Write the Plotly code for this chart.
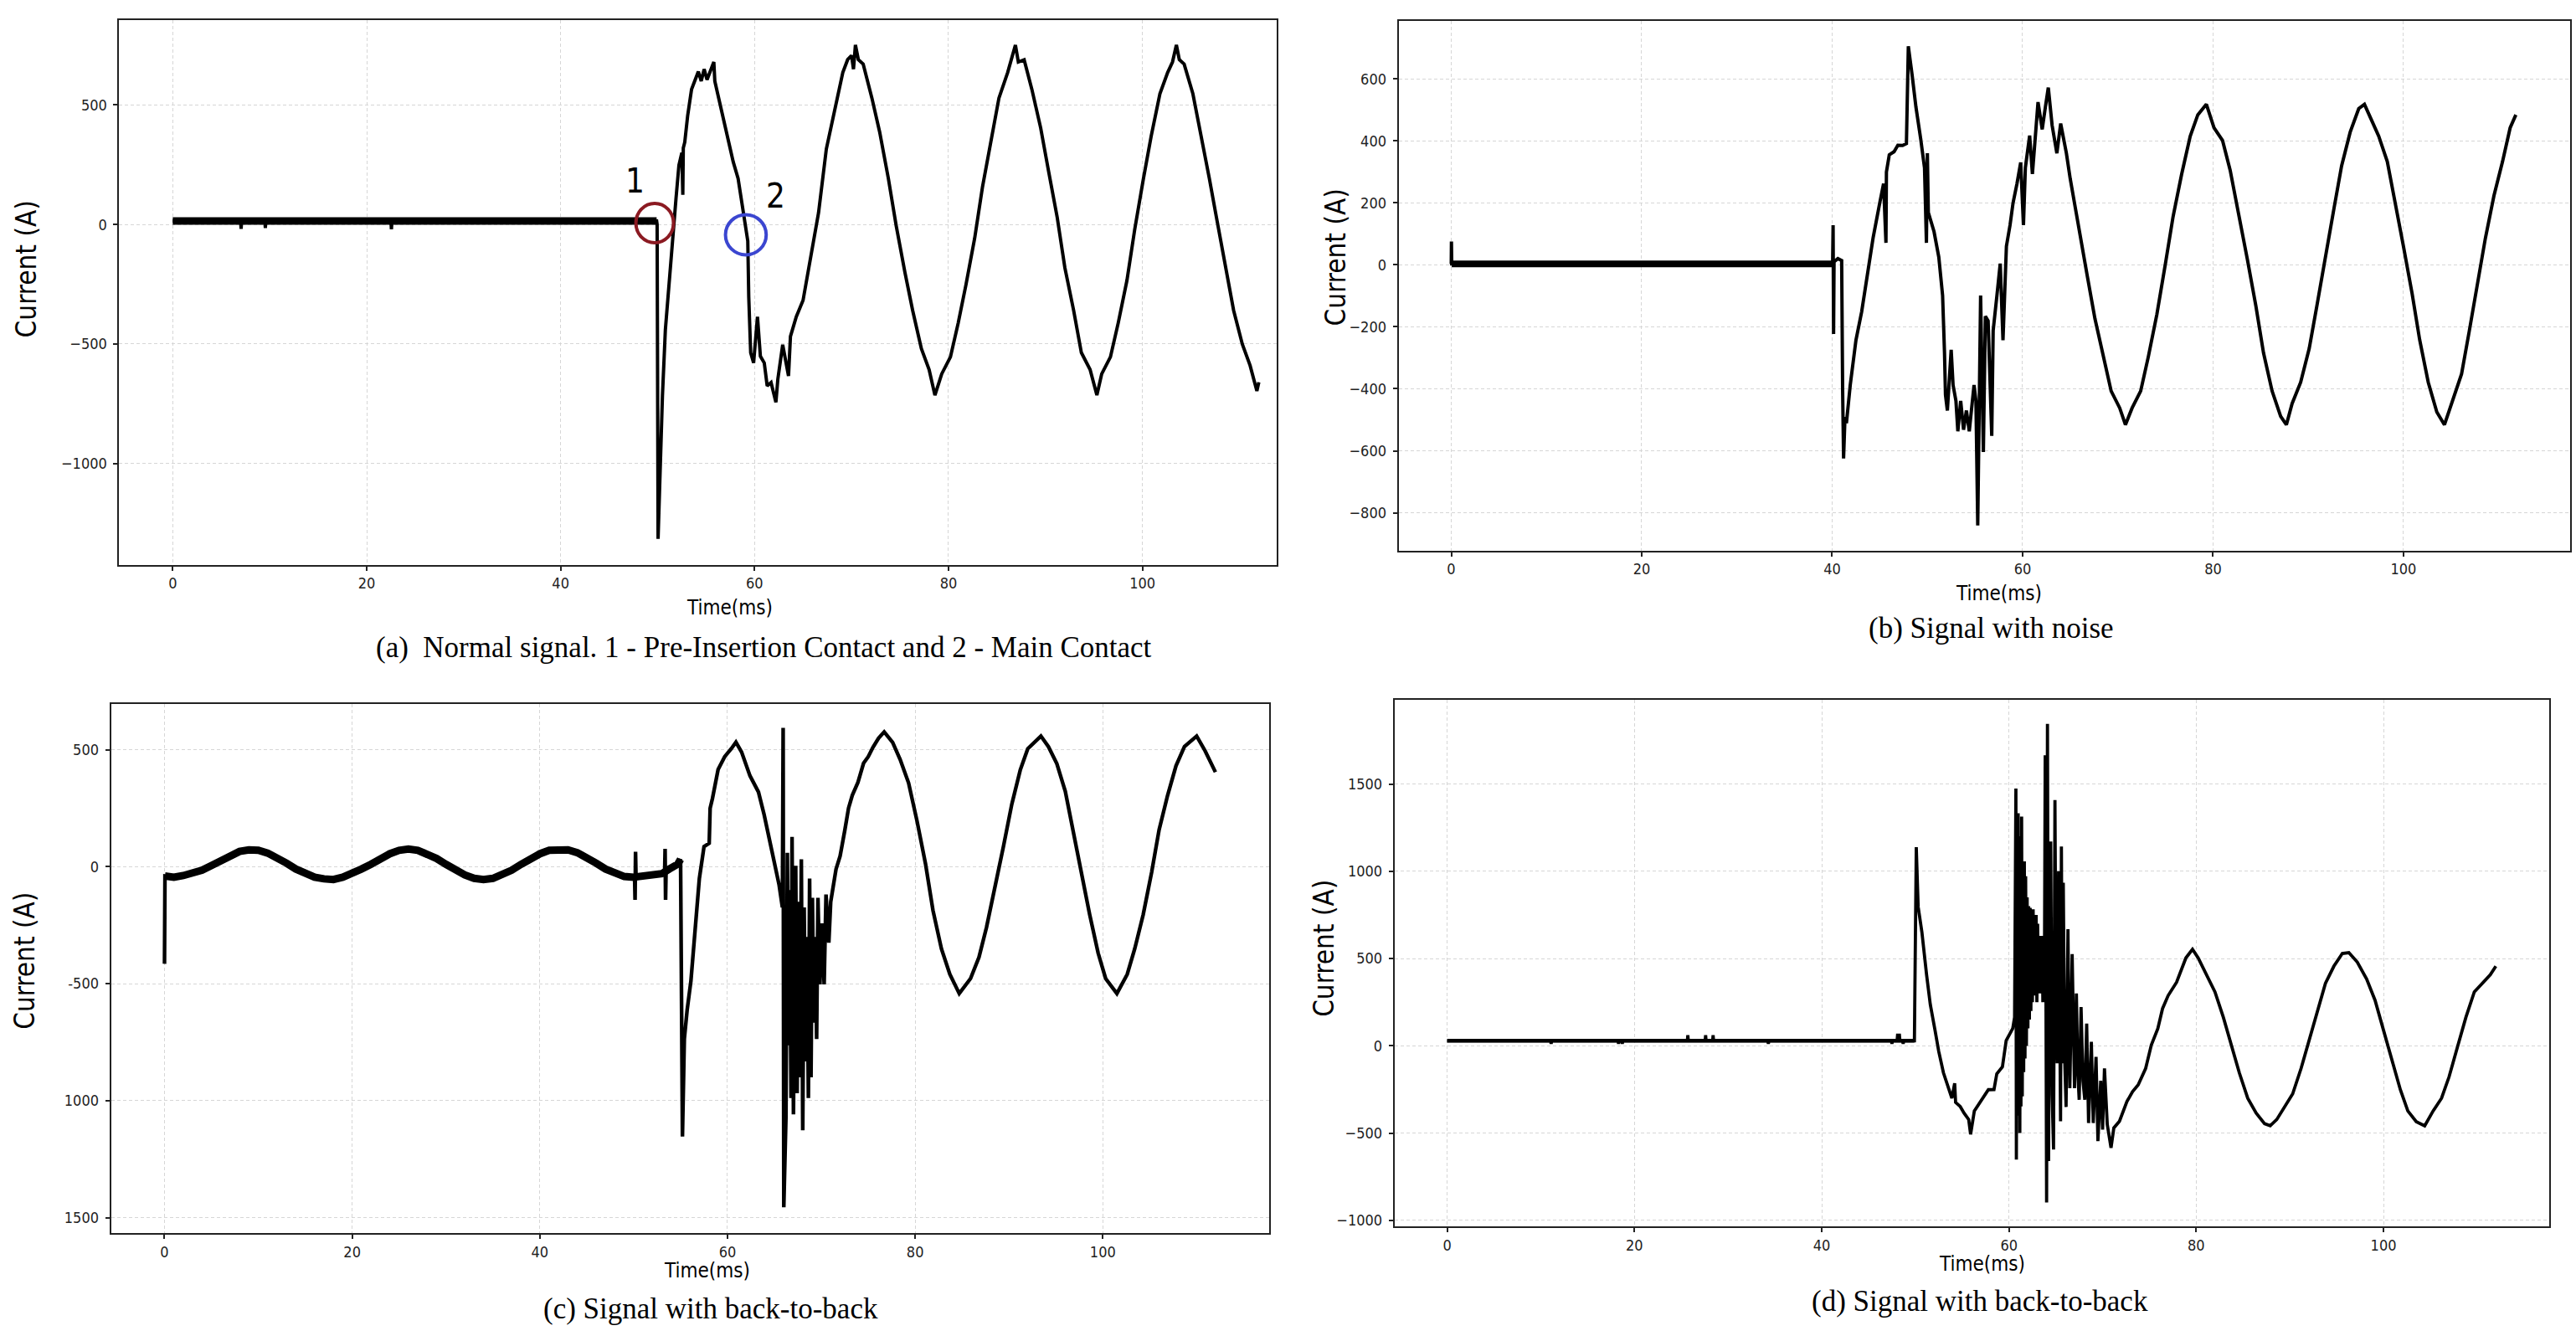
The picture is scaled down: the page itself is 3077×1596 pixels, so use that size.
import numpy as np
import plotly.graph_objects as go

W, H = 3077, 1596

# ---------------- (a) Normal signal ----------------
a_time = [0, 49.9, 49.95, 50.05, 50.2, 50.5, 50.8, 51.1, 51.4, 51.6,
          51.9, 52.2, 52.5, 52.6, 52.65, 52.8, 53.1, 53.5, 53.9, 54.2,
          54.5, 54.8, 55.1, 55.4, 55.8, 55.9, 56.1, 56.5, 57.0, 57.4,
          57.8, 58.3, 58.7, 59.1, 59.3, 59.4, 59.6, 59.9, 60.3, 60.6,
          61.0, 61.3, 61.7, 62.2, 62.4, 62.9, 63.2, 63.5, 63.7, 64.3,
          65.0, 65.7, 66.6, 67.4, 68.3, 69.1, 69.6, 70.0, 70.2, 70.4,
          70.7, 71.2, 72.1, 72.9, 73.8, 74.6, 75.5, 76.3, 77.2, 78.0,
          78.6, 79.3, 80.2, 81.0, 81.8, 82.7, 83.5, 84.4, 85.2, 86.1,
          86.5, 86.9, 87.2, 87.8, 88.6, 89.5, 90.3, 91.2, 92.0, 92.9,
          93.7, 94.6, 95.3, 95.8, 96.7, 97.5, 98.4, 99.2, 100.1, 100.9,
          101.8, 102.6, 103.1, 103.5, 103.8, 104.3, 105.2, 106.0, 106.9, 107.7,
          108.6, 109.4, 110.3, 111.1, 111.8, 112.0]
a_current = [15, 15, 0, -1315, -1102, -716, -441, -289, -138, 0,
             110, 248, 300, 124, 320, 344, 455, 565, 613, 640,
             600, 650, 606, 640, 680, 600, 565, 496, 413, 331,
             262, 193, 96, -14, -69, -303, -537, -579, -386, -551,
             -579, -675, -661, -744, -647, -503, -579, -634, -468, -386,
             -317, -163, 50, 316, 494, 636, 690, 707, 650, 751,
             690, 671, 529, 387, 192, -4, -199, -359, -519, -607,
             -714, -625, -554, -412, -252, -57, 156, 352, 529, 636,
             690, 751, 680, 689, 565, 405, 227, 32, -181, -359,
             -536, -607, -714, -625, -554, -412, -234, -21, 192, 370,
             547, 636, 680, 751, 690, 671, 547, 387, 192, 14,
             -181, -359, -501, -590, -696, -660]
a_spike_time = [7.0, 7.05, 7.1, 9.5, 9.55, 9.6, 22.5, 22.55, 22.6]
a_spike_current = [15, -18, 15, 15, -15, 15, 15, -20, 15]

# ---------------- (b) Signal with noise ----------------
b_time = [0, 0.05, 40.0, 40.2, 40.6, 41.0, 41.1, 41.2, 41.35, 41.5,
          41.9, 42.5, 43.1, 43.7, 44.3, 45.0, 45.4, 45.65, 45.7, 46.0,
          46.5, 46.9, 47.4, 47.8, 48.0, 48.4, 48.8, 49.3, 49.7, 49.9,
          50.0, 50.1, 50.7, 51.2, 51.6, 51.8, 51.9, 52.1, 52.5, 52.7,
          53.0, 53.2, 53.5, 53.8, 54.1, 54.4, 54.9, 55.1, 55.29, 55.59,
          55.88, 56.09, 56.38, 56.76, 56.91, 57.3, 57.65, 57.94, 58.3, 58.68,
          59.0, 59.41, 59.8, 60.09, 60.29, 60.74, 61.03, 61.62, 62.06, 62.4,
          62.7, 63.1, 63.6, 64.0, 64.6, 65.0, 65.9, 66.8, 67.6, 68.5,
          69.3, 70.2, 70.8, 71.5, 72.4, 73.2, 74.1, 75.0, 75.8, 76.7,
          77.6, 78.4, 79.3, 80.1, 81.0, 81.8, 82.7, 83.6, 84.5, 85.3,
          86.2, 87.1, 87.7, 88.3, 89.2, 90.1, 90.9, 91.8, 92.7, 93.5,
          94.4, 95.3, 95.9, 96.6, 97.4, 98.3, 99.1, 100.0, 100.9, 101.7,
          102.6, 103.5, 104.3, 105.2, 106.1, 106.9, 107.8, 108.6, 109.5, 110.4,
          111.2, 111.8]
b_current = [3, 3, 3, 10, 20, 14, -400, -625, -491, -511,
             -388, -243, -151, -27, 87, 200, 262, 71, 300, 355,
             365, 386, 385, 391, 705, 612, 509, 406, 313, 71,
             360, 169, 107, 25, -99, -285, -419, -470, -274, -388,
             -439, -537, -439, -532, -470, -537, -388, -439, -841, -99,
             -604, -166, -181, -552, -212, -100, 4, -243, 60, 128,
             200, 262, 330, 128, 313, 417, 293, 525, 437, 511,
             572, 450, 360, 456, 360, 278, 114, -37, -174, -297,
             -407, -462, -516, -462, -407, -297, -160, 4, 155, 292,
             415, 484, 518, 442, 401, 305, 168, 18, -133, -284,
             -407, -489, -516, -448, -379, -270, -133, 32, 182, 319,
             428, 504, 518, 470, 415, 333, 210, 59, -92, -242,
             -379, -475, -516, -434, -352, -215, -51, 86, 223, 333,
             442, 484]
b_spike_time = [0.01, 0.02, 0.03, 40.05, 40.1, 40.15]
b_spike_current = [3, 75, 3, 3, 128, -223]

# ---------------- (c) Signal with back-to-back ----------------
c_time = [0, 0.05, 1, 2, 3, 4, 5, 6, 7, 8,
          9, 10, 11, 12, 13, 14, 15, 16, 17, 18,
          19, 20, 21, 22, 23, 24, 25, 26, 27, 28,
          29, 30, 31, 32, 33, 34, 35, 36, 37, 38,
          39, 40, 41, 42, 43, 44, 45, 46, 47, 48,
          49, 50, 51, 52, 53, 53.8, 54.7, 55.0, 55.2, 55.4,
          55.7, 56.1, 56.6, 57.0, 57.5, 58.05, 58.15, 58.4, 59.0, 59.7,
          60.4, 60.9, 61.5, 62.4, 63.3, 63.9, 64.7, 65.5, 65.85, 65.93,
          66.0, 66.23, 66.38, 66.53, 66.62, 66.77, 66.88, 67.03, 67.18, 67.27,
          67.42, 67.57, 67.72, 67.87, 68.02, 68.17, 68.32, 68.47, 68.62, 68.75,
          68.9, 69.05, 69.2, 69.35, 69.5, 69.64, 69.85, 70.05, 70.3, 70.5,
          70.8, 71.0, 71.57, 72.0, 72.5, 72.9, 73.3, 73.9, 74.5, 75.0,
          75.5, 76.1, 76.7, 77.6, 78.4, 79.3, 80.2, 81.1, 81.9, 82.8,
          83.7, 84.7, 85.9, 86.8, 87.6, 88.5, 89.4, 90.3, 91.2, 92.0,
          93.4, 94.2, 95.1, 96.0, 96.8, 97.7, 98.6, 99.5, 100.3, 101.5,
          102.6, 103.4, 104.3, 105.2, 106.0, 106.9, 107.8, 108.7, 110.0, 110.9,
          111.5, 112.0]
c_current = [-415, -40, -45, -38, -30, -15, 5, 25, 48, 65,
             72, 70, 58, 40, 15, -10, -30, -45, -52, -55,
             -45, -30, -10, 10, 35, 55, 70, 75, 70, 55,
             35, 10, -15, -35, -50, -55, -50, -35, -15, 10,
             35, 55, 70, 75, 72, 60, 40, 15, -10, -30,
             -42, -45, -42, -38, -30, -10, 11, 32, -1153, -736,
             -612, -489, -256, -51, 86, 100, 250, 292, 415, 470,
             504, 532, 490, 388, 319, 223, 73, -78, -174, 593,
             -1455, -1071, 59, -763, -100, -989, 127, -1058, -200, 4,
             -968, -150, -900, 32, -1126, -174, -832, -300, -989, -51,
             -900, -133, -667, -300, -736, -133, -503, -242, -503, -119,
             -325, -150, -10, 45, 155, 250, 305, 360, 442, 470,
             510, 549, 576, 531, 458, 358, 195, 13, -187, -351,
             -460, -542, -478, -387, -260, -96, 85, 267, 413, 504,
             558, 513, 440, 322, 158, -24, -205, -369, -478, -542,
             -460, -351, -205, -24, 158, 304, 431, 513, 558, 495,
             449, 404]
c_spike_time = [50.1, 50.15, 50.2, 50.25, 53.3, 53.35, 53.4, 53.45]
c_spike_current = [-44, -142, 64, -44, -28, 76, -142, -25]
c_tick_values = [-1500, -1000, -500, 0, 500]
c_tick_labels = ["1500", "1000", "-500", "0", "500"]

# ---------------- (d) Signal with back-to-back ----------------
d_time = [0, 49.9, 50.1, 50.3, 50.7, 51.2, 51.6, 52.1, 52.5, 53.0,
          53.4, 53.9, 54.2, 54.3, 54.8, 55.2, 55.7, 55.9, 56.3, 56.9,
          57.8, 58.4, 58.7, 59.3, 59.7, 60.4, 60.6, 60.74, 60.79, 60.86,
          60.92, 60.98, 61.04, 61.1, 61.16, 61.22, 61.28, 61.35, 61.42, 61.5,
          61.57, 61.64, 61.71, 61.78, 61.86, 61.94, 62.02, 62.1, 62.18, 62.26,
          62.34, 62.42, 62.5, 62.58, 62.66, 62.74, 62.82, 62.9, 62.98, 63.06,
          63.14, 63.22, 63.3, 63.38, 63.46, 63.54, 63.62, 63.7, 63.78, 63.87,
          64.02, 64.11, 64.23, 64.35, 64.46, 64.61, 64.76, 64.91, 65.03, 65.15,
          65.3, 65.4, 65.51, 65.6, 65.7, 65.8, 65.95, 66.1, 66.3, 66.4,
          66.5, 66.75, 66.9, 67.0, 67.2, 67.35, 67.5, 67.7, 67.9, 68.1,
          68.3, 68.5, 68.8, 69.0, 69.3, 69.5, 69.8, 70.0, 70.2, 70.5,
          70.9, 71.2, 71.8, 72.6, 73.2, 73.8, 74.6, 75.2, 75.9, 76.4,
          77.0, 77.9, 78.9, 79.6, 80.2, 81.1, 82.0, 82.9, 83.7, 84.6,
          85.5, 86.4, 87.3, 87.9, 88.6, 89.5, 90.3, 91.2, 92.1, 93.0,
          93.8, 94.7, 95.6, 96.3, 97.2, 98.2, 99.1, 100.0, 100.9, 101.8,
          102.6, 103.5, 104.4, 105.3, 106.2, 107.0, 107.9, 108.8, 109.7, 110.5,
          111.4, 112.0]
d_current = [29, 29, 1138, 797, 651, 407, 236, 90, -32, -154,
             -214, -300, -214, -324, -348, -385, -422, -507, -373, -324,
             -251, -250, -160, -120, 30, 99, 163, 1474, -651, 1100,
             -400, 1332, -300, 1200, -499, 900, -347, 1313, -290, 1000,
             -150, 1057, -72, 972, 0, 850, 100, 800, 150, 791,
             200, 760, 250, 782, 288, 700, 300, 750, 250, 700,
             350, 630, 300, 600, 400, 630, 250, 500, 300, 1664,
             -897, 1844, -660, 900, 1171, -281, -594, 1408, 200, -100,
             1000, 300, -432, 1142, -100, 934, -72, -350, 668, 100,
             -243, 526, -100, -243, 300, -150, -309, 222, -200, -309,
             127, -442, 23, -442, -63, -546, -200, -480, -129, -450,
             -584, -470, -432, -319, -262, -224, -129, 4, 99, 213,
             288, 364, 504, 553, 504, 407, 309, 163, 17, -154,
             -300, -385, -446, -458, -422, -348, -275, -129, 41, 212,
             358, 456, 529, 534, 480, 383, 261, 90, -80, -251,
             -373, -434, -458, -373, -300, -178, -7, 163, 309, 358,
             407, 456]
d_spike_time = [11.05, 11.1, 11.15, 18.25, 18.3, 18.35, 18.65, 18.7, 18.75,
                25.65, 25.7, 25.75, 27.55, 27.6, 27.65, 28.35, 28.4, 28.45,
                34.25, 34.3, 34.35, 47.45, 47.5, 47.55, 48.05, 48.1, 48.3, 48.35,
                48.65, 48.7, 48.75]
d_spike_current = [29, 12, 29, 29, 12, 29, 29, 12, 29,
                   29, 61, 29, 29, 61, 29, 29, 61, 29,
                   29, 12, 29, 29, 12, 29, 29, 61, 61, 29,
                   29, 12, 29]

captions = ["(a)\u00a0\u00a0Normal signal. 1 - Pre-Insertion Contact and 2 - Main Contact",
            "(b) Signal with noise",
            "(c) Signal with back-to-back",
            "(d) Signal with back-to-back"]

for tt, ii in [(a_time, a_current), (b_time, b_current), (c_time, c_current), (d_time, d_current),
               (a_spike_time, a_spike_current), (b_spike_time, b_spike_current),
               (c_spike_time, c_spike_current), (d_spike_time, d_spike_current)]:
    assert len(tt) == len(ii), (len(tt), len(ii))


def merged(t, i, st, si):
    t = np.concatenate([np.asarray(t, float), np.asarray(st, float)])
    i = np.concatenate([np.asarray(i, float), np.asarray(si, float)])
    o = np.argsort(t, kind="stable")
    return t[o], i[o]


SANS = "DejaVu Sans Condensed, Roboto, DejaVu Sans, sans-serif"

# layout geometry (pixels in the 3077x1596 page)
panels = [
    dict(t=a_time, i=a_current, st=a_spike_time, si=a_spike_current,
         px=(142.4, 1524.5), py=(24.4, 675.8), xr=[-5.52, 113.8], yr=[-1423, 854],
         yt=[-1000, -500, 0, 500], ytt=None, band=(0.0, 49.9), bw=9, lw=4.0,
         ylab=(31, 322), xlab=(871, 727), cap=(912, 775)),
    dict(t=b_time, i=b_current, st=b_spike_time, si=b_spike_current,
         px=(1670.6, 3070), py=(25.4, 659), xr=[-5.53, 117.5], yr=[-922, 786],
         yt=[-800, -600, -400, -200, 0, 200, 400, 600], ytt=None, band=(0.04, 40.0), bw=8, lw=4.0,
         ylab=(1595, 308), xlab=(2387, 710), cap=(2378, 752)),
    dict(t=c_time, i=c_current, st=c_spike_time, si=c_spike_current,
         px=(132.6, 1515.7), py=(842.2, 1475.8), xr=[-5.7, 117.7], yr=[-1565.5, 696.5],
         yt=c_tick_values, ytt=c_tick_labels, band=(0.04, 55.0), bw=9, lw=4.4,
         ylab=(30, 1150), xlab=(844, 1521), cap=(849, 1566)),
    dict(t=d_time, i=d_current, st=d_spike_time, si=d_spike_current,
         px=(1665.7, 3045), py=(837.2, 1468.2), xr=[-5.63, 117.7], yr=[-1036, 1984],
         yt=[-1000, -500, 0, 500, 1000, 1500], ytt=None, band=(0.0, 49.9), bw=4.5, lw=3.8,
         ylab=(1582, 1135), xlab=(2367, 1513), cap=(2365, 1557)),
]

fig = go.Figure()
annotations = []
shapes = []
TICKFONT = dict(family=SANS, size=18, color="#222222")

for k, p in enumerate(panels):
    n = "" if k == 0 else str(k + 1)
    xa, ya = "x" + n, "y" + n
    t_all, i_all = merged(p["t"], p["i"], p["st"], p["si"])
    fig.add_trace(go.Scatter(x=t_all, y=i_all, mode="lines", xaxis=xa, yaxis=ya,
                             line=dict(color="black", width=p["lw"]), hoverinfo="skip"))
    tb = np.asarray(p["t"], float)
    ib = np.asarray(p["i"], float)
    m = (tb >= p["band"][0]) & (tb <= p["band"][1])
    fig.add_trace(go.Scatter(x=tb[m], y=ib[m], mode="lines", xaxis=xa, yaxis=ya,
                             line=dict(color="black", width=p["bw"]), hoverinfo="skip"))

    common = dict(showgrid=True, gridcolor="#d6d6d6", griddash="4px,3px", gridwidth=1,
                  zeroline=False, showline=True, linecolor="#222222", linewidth=2, mirror=True,
                  ticks="outside", ticklen=5, tickwidth=1.5, tickcolor="#222222",
                  tickfont=TICKFONT)
    xaxis = dict(common, domain=[p["px"][0] / W, p["px"][1] / W], range=p["xr"],
                 tickvals=[0, 20, 40, 60, 80, 100], anchor=ya, ticklabelstandoff=0)
    yaxis = dict(common, domain=[1 - p["py"][1] / H, 1 - p["py"][0] / H], range=p["yr"],
                 tickvals=p["yt"], anchor=xa, ticklabelstandoff=4)
    if p["ytt"] is not None:
        yaxis["ticktext"] = p["ytt"]
    fig.update_layout(**{"xaxis" + n: xaxis, "yaxis" + n: yaxis})

    annotations.append(dict(xref="paper", yref="paper", x=p["ylab"][0] / W, y=1 - p["ylab"][1] / H,
                            text="Current (A)", textangle=-90, showarrow=False,
                            xanchor="center", yanchor="middle",
                            font=dict(family=SANS, size=33, color="black")))
    annotations.append(dict(xref="paper", yref="paper", x=p["xlab"][0] / W, y=1 - p["xlab"][1] / H,
                            text="Time(ms)", showarrow=False,
                            xanchor="center", yanchor="middle",
                            font=dict(family=SANS, size=24, color="black")))
    annotations.append(dict(xref="paper", yref="paper", x=p["cap"][0] / W, y=1 - p["cap"][1] / H,
                            text=captions[k], showarrow=False, xanchor="center", yanchor="middle",
                            font=dict(family="Liberation Serif", size=35, color="black")))

# markers of contacts in panel (a)
shapes.append(dict(type="circle", xref="x", yref="y", x0=49.7 - 1.94, x1=49.7 + 1.94,
                   y0=6 - 82, y1=6 + 82, line=dict(color="#8b1a22", width=4)))
shapes.append(dict(type="circle", xref="x", yref="y", x0=59.1 - 2.1, x1=59.1 + 2.1,
                   y0=-43 - 84, y1=-43 + 84, line=dict(color="#3b46d0", width=4)))
annotations.append(dict(xref="x", yref="y", x=47.7, y=184, text="1", showarrow=False,
                        font=dict(family=SANS, size=40, color="black")))
annotations.append(dict(xref="x", yref="y", x=62.2, y=121, text="2", showarrow=False,
                        font=dict(family=SANS, size=40, color="black")))

fig.update_layout(width=W, height=H, margin=dict(l=0, r=0, t=0, b=0),
                  plot_bgcolor="white", paper_bgcolor="white", showlegend=False,
                  annotations=annotations, shapes=shapes)

fig.write_html("out.html", config={"displayModeBar": False},
               post_script="document.body.style.margin='0';document.body.style.overflow='hidden';")
